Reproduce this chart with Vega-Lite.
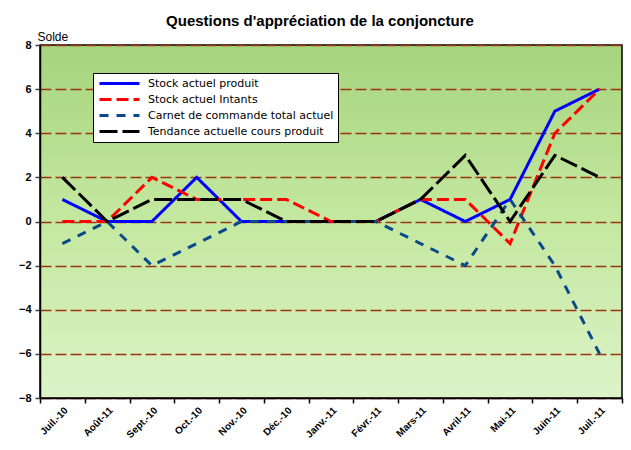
{
  "$schema": "https://vega.github.io/schema/vega-lite/v6.json",
  "autosize": "none",
  "width": 582,
  "height": 353,
  "padding": {"left": 40, "top": 45, "right": 9, "bottom": 52},
  "background": "white",
  "title": {
    "text": "Questions d'appréciation de la conjoncture",
    "font": "Liberation Sans",
    "fontSize": 15,
    "fontWeight": "bold",
    "color": "black",
    "anchor": "middle",
    "dx": -11,
    "offset": 1
  },
  "config": {
    "view": {
      "stroke": "black",
      "strokeWidth": 1.5,
      "fill": {
        "gradient": "linear",
        "x1": 0, "y1": 0, "x2": 0, "y2": 1,
        "stops": [
          {"offset": 0, "color": "#a6d47d"},
          {"offset": 0.5, "color": "#c4e8a0"},
          {"offset": 1, "color": "#dcf3c8"}
        ]
      }
    }
  },
  "data": {
    "values": [
      {"mois": "Juil.-10", "serie": "Stock actuel produit", "solde": 1},
      {"mois": "Août-11", "serie": "Stock actuel produit", "solde": 0},
      {"mois": "Sept.-10", "serie": "Stock actuel produit", "solde": 0},
      {"mois": "Oct.-10", "serie": "Stock actuel produit", "solde": 2},
      {"mois": "Nov.-10", "serie": "Stock actuel produit", "solde": 0},
      {"mois": "Déc.-10", "serie": "Stock actuel produit", "solde": 0},
      {"mois": "Janv.-11", "serie": "Stock actuel produit", "solde": 0},
      {"mois": "Févr.-11", "serie": "Stock actuel produit", "solde": 0},
      {"mois": "Mars-11", "serie": "Stock actuel produit", "solde": 1},
      {"mois": "Avril-11", "serie": "Stock actuel produit", "solde": 0},
      {"mois": "Mai-11", "serie": "Stock actuel produit", "solde": 1},
      {"mois": "Juin-11", "serie": "Stock actuel produit", "solde": 5},
      {"mois": "Juil.-11", "serie": "Stock actuel produit", "solde": 6},

      {"mois": "Juil.-10", "serie": "Stock actuel Intants", "solde": 0},
      {"mois": "Août-11", "serie": "Stock actuel Intants", "solde": 0},
      {"mois": "Sept.-10", "serie": "Stock actuel Intants", "solde": 2},
      {"mois": "Oct.-10", "serie": "Stock actuel Intants", "solde": 1},
      {"mois": "Nov.-10", "serie": "Stock actuel Intants", "solde": 1},
      {"mois": "Déc.-10", "serie": "Stock actuel Intants", "solde": 1},
      {"mois": "Janv.-11", "serie": "Stock actuel Intants", "solde": 0},
      {"mois": "Févr.-11", "serie": "Stock actuel Intants", "solde": 0},
      {"mois": "Mars-11", "serie": "Stock actuel Intants", "solde": 1},
      {"mois": "Avril-11", "serie": "Stock actuel Intants", "solde": 1},
      {"mois": "Mai-11", "serie": "Stock actuel Intants", "solde": -1},
      {"mois": "Juin-11", "serie": "Stock actuel Intants", "solde": 4},
      {"mois": "Juil.-11", "serie": "Stock actuel Intants", "solde": 6},

      {"mois": "Juil.-10", "serie": "Carnet de commande total actuel", "solde": -1},
      {"mois": "Août-11", "serie": "Carnet de commande total actuel", "solde": 0},
      {"mois": "Sept.-10", "serie": "Carnet de commande total actuel", "solde": -2},
      {"mois": "Oct.-10", "serie": "Carnet de commande total actuel", "solde": -1},
      {"mois": "Nov.-10", "serie": "Carnet de commande total actuel", "solde": 0},
      {"mois": "Déc.-10", "serie": "Carnet de commande total actuel", "solde": 0},
      {"mois": "Janv.-11", "serie": "Carnet de commande total actuel", "solde": 0},
      {"mois": "Févr.-11", "serie": "Carnet de commande total actuel", "solde": 0},
      {"mois": "Mars-11", "serie": "Carnet de commande total actuel", "solde": -1},
      {"mois": "Avril-11", "serie": "Carnet de commande total actuel", "solde": -2},
      {"mois": "Mai-11", "serie": "Carnet de commande total actuel", "solde": 1},
      {"mois": "Juin-11", "serie": "Carnet de commande total actuel", "solde": -2},
      {"mois": "Juil.-11", "serie": "Carnet de commande total actuel", "solde": -6},

      {"mois": "Juil.-10", "serie": "Tendance actuelle cours produit", "solde": 2},
      {"mois": "Août-11", "serie": "Tendance actuelle cours produit", "solde": 0},
      {"mois": "Sept.-10", "serie": "Tendance actuelle cours produit", "solde": 1},
      {"mois": "Oct.-10", "serie": "Tendance actuelle cours produit", "solde": 1},
      {"mois": "Nov.-10", "serie": "Tendance actuelle cours produit", "solde": 1},
      {"mois": "Déc.-10", "serie": "Tendance actuelle cours produit", "solde": 0},
      {"mois": "Janv.-11", "serie": "Tendance actuelle cours produit", "solde": 0},
      {"mois": "Févr.-11", "serie": "Tendance actuelle cours produit", "solde": 0},
      {"mois": "Mars-11", "serie": "Tendance actuelle cours produit", "solde": 1},
      {"mois": "Avril-11", "serie": "Tendance actuelle cours produit", "solde": 3},
      {"mois": "Mai-11", "serie": "Tendance actuelle cours produit", "solde": 0},
      {"mois": "Juin-11", "serie": "Tendance actuelle cours produit", "solde": 3},
      {"mois": "Juil.-11", "serie": "Tendance actuelle cours produit", "solde": 2}
    ]
  },
  "mark": {"type": "line", "strokeWidth": 3, "strokeCap": "butt"},
  "encoding": {
    "x": {
      "field": "mois",
      "type": "nominal",
      "sort": ["Juil.-10", "Août-11", "Sept.-10", "Oct.-10", "Nov.-10", "Déc.-10", "Janv.-11", "Févr.-11", "Mars-11", "Avril-11", "Mai-11", "Juin-11", "Juil.-11"],
      "scale": {"type": "band", "paddingInner": 0, "paddingOuter": 0},
      "axis": {
        "title": null,
        "tickBand": "extent",
        "labelAngle": -45,
        "labelAlign": "right",
        "labelBaseline": "top",
        "labelFont": "Liberation Sans",
        "labelFontSize": 10,
        "labelFontWeight": "bold",
        "labelColor": "black",
        "labelPadding": 2,
        "domainColor": "black",
        "domainWidth": 1.5,
        "tickColor": "black",
        "tickSize": 5,
        "tickWidth": 1.5,
        "grid": false
      }
    },
    "y": {
      "field": "solde",
      "type": "quantitative",
      "scale": {"domain": [-8, 8], "nice": false},
      "axis": {
        "title": "Solde",
        "titleAngle": 0,
        "titleAlign": "left",
        "titleBaseline": "bottom",
        "titleX": -3,
        "titleY": -2,
        "titleFont": "Liberation Sans",
        "titleFontSize": 12,
        "titleFontWeight": "normal",
        "titleColor": "black",
        "values": [-8, -6, -4, -2, 0, 2, 4, 6, 8],
        "labelFont": "Liberation Sans",
        "labelFontSize": 11,
        "labelFontWeight": "bold",
        "labelColor": "black",
        "labelPadding": 4,
        "domainColor": "black",
        "domainWidth": 1.5,
        "tickColor": "#404040",
        "tickSize": 5,
        "tickWidth": 1.5,
        "grid": true,
        "gridColor": "#9a3412",
        "gridDash": [11, 4],
        "gridWidth": 1.5
      }
    },
    "color": {
      "field": "serie",
      "type": "nominal",
      "sort": ["Stock actuel produit", "Stock actuel Intants", "Carnet de commande total actuel", "Tendance actuelle cours produit"],
      "scale": {
        "domain": ["Stock actuel produit", "Stock actuel Intants", "Carnet de commande total actuel", "Tendance actuelle cours produit"],
        "range": ["#0000ff", "#ff0000", "#0b4a8a", "#000000"]
      },
      "legend": {
        "title": null,
        "orient": "none",
        "legendX": 53,
        "legendY": 28,
        "fillColor": "white",
        "strokeColor": "black",
        "padding": 4,
        "labelFont": "DejaVu Sans",
        "labelFontSize": 11,
        "labelColor": "black",
        "labelLimit": 300,
        "symbolType": "M-4,0H4",
        "symbolSize": 100,
        "symbolStrokeWidth": 3,
        "symbolOffset": 16,
        "rowPadding": 3,
        "labelOffset": 22
      }
    },
    "strokeDash": {
      "field": "serie",
      "type": "nominal",
      "scale": {
        "domain": ["Stock actuel produit", "Stock actuel Intants", "Carnet de commande total actuel", "Tendance actuelle cours produit"],
        "range": [[1, 0], [12, 5], [9, 8], [18, 5]]
      }
    },
    "order": {"field": "serie"}
  }
}
